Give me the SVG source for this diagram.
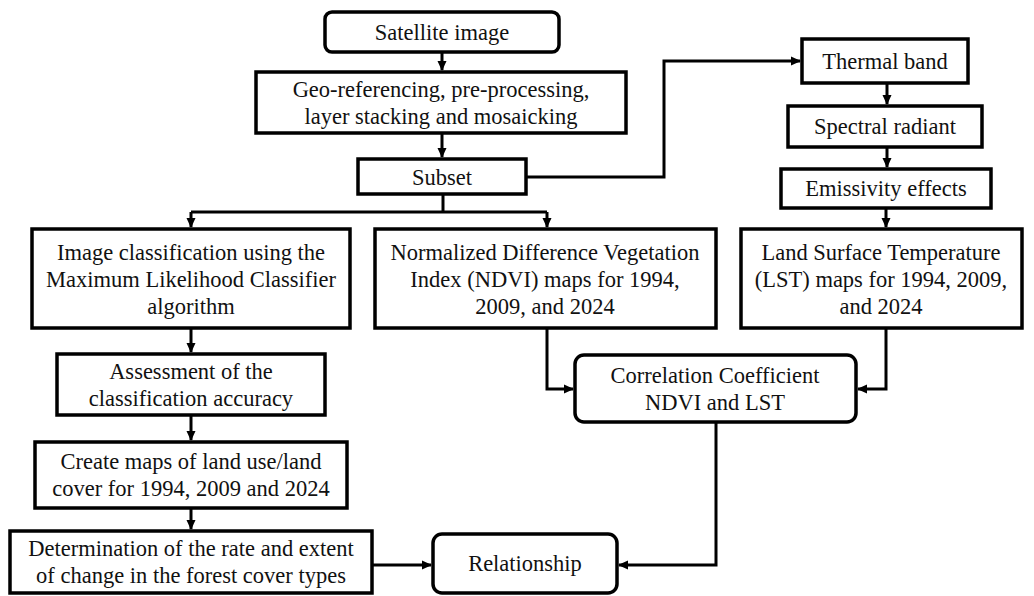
<svg xmlns="http://www.w3.org/2000/svg" width="1034" height="596" viewBox="0 0 1034 596">
<style>
.box{fill:#fff;stroke:#000;stroke-width:3.5}
.t{font-family:"Liberation Serif","Times New Roman",serif;font-size:22.5px;fill:#111;text-anchor:middle}
.c{fill:none;stroke:#000;stroke-width:3}
</style>
<defs>
<marker id="ah" markerUnits="userSpaceOnUse" markerWidth="10" markerHeight="10" refX="9" refY="5" orient="auto">
<path d="M0,0.5 L10,5 L0,9.5 z" fill="#000"/>
</marker>
</defs>
<rect width="1034" height="596" fill="#fff"/>
<g id="connectors">
<path class="c" d="M442,52 V70" marker-end="url(#ah)"/>
<path class="c" d="M442,133 V157" marker-end="url(#ah)"/>
<path class="c" d="M526,177 H664 V61 H800" marker-end="url(#ah)"/>
<path class="c" d="M887,83 V104" marker-end="url(#ah)"/>
<path class="c" d="M887,147 V167" marker-end="url(#ah)"/>
<path class="c" d="M886,208 V227" marker-end="url(#ah)"/>
<path class="c" d="M443,194 V212"/>
<path class="c" d="M191,212 H547"/>
<path class="c" d="M191,212 V227" marker-end="url(#ah)"/>
<path class="c" d="M547,212 V227" marker-end="url(#ah)"/>
<path class="c" d="M191,328 V352" marker-end="url(#ah)"/>
<path class="c" d="M191,415 V440" marker-end="url(#ah)"/>
<path class="c" d="M191,508 V529" marker-end="url(#ah)"/>
<path class="c" d="M547,328 V389 H573" marker-end="url(#ah)"/>
<path class="c" d="M886,328 V389 H858" marker-end="url(#ah)"/>
<path class="c" d="M372,565 H431" marker-end="url(#ah)"/>
<path class="c" d="M716,422 V565 H619" marker-end="url(#ah)"/>
</g>
<g id="satellite">
<rect class="box" x="325" y="12" width="234" height="40" rx="7"/>
<text class="t" x="442" y="40">Satellite image</text>
</g>
<g id="georef">
<rect class="box" x="256" y="72" width="370" height="61"/>
<text class="t" x="441" y="97">Geo-referencing, pre-processing,</text>
<text class="t" x="441" y="124">layer stacking and mosaicking</text>
</g>
<g id="subset">
<rect class="box" x="358" y="159" width="168" height="35"/>
<text class="t" x="442" y="185">Subset</text>
</g>
<g id="thermal">
<rect class="box" x="802" y="39" width="166" height="44"/>
<text class="t" x="885" y="69">Thermal band</text>
</g>
<g id="spectral">
<rect class="box" x="788" y="106" width="194" height="41"/>
<text class="t" x="885" y="134">Spectral radiant</text>
</g>
<g id="emissivity">
<rect class="box" x="781" y="169" width="210" height="39"/>
<text class="t" x="886" y="196">Emissivity effects</text>
</g>
<g id="classification">
<rect class="box" x="32" y="229" width="318" height="99"/>
<text class="t" x="191" y="260">Image classification using the</text>
<text class="t" x="191" y="287">Maximum Likelihood Classifier</text>
<text class="t" x="191" y="314">algorithm</text>
</g>
<g id="ndvi">
<rect class="box" x="375" y="229" width="341" height="99"/>
<text class="t" x="545" y="260">Normalized Difference Vegetation</text>
<text class="t" x="545" y="287">Index (NDVI) maps for 1994,</text>
<text class="t" x="545" y="314">2009, and 2024</text>
</g>
<g id="lst">
<rect class="box" x="741" y="229" width="281" height="99"/>
<text class="t" x="881" y="260">Land Surface Temperature</text>
<text class="t" x="881" y="287">(LST) maps for 1994, 2009,</text>
<text class="t" x="881" y="314">and 2024</text>
</g>
<g id="assessment">
<rect class="box" x="57" y="354" width="268" height="61"/>
<text class="t" x="191" y="379">Assessment of the</text>
<text class="t" x="191" y="406">classification accuracy</text>
</g>
<g id="correlation">
<rect class="box" x="575" y="355" width="281" height="67" rx="9"/>
<text class="t" x="715" y="383">Correlation Coefficient</text>
<text class="t" x="715" y="410">NDVI and LST</text>
</g>
<g id="createmaps">
<rect class="box" x="35" y="442" width="312" height="66"/>
<text class="t" x="191" y="469">Create maps of land use/land</text>
<text class="t" x="191" y="496">cover for 1994, 2009 and 2024</text>
</g>
<g id="determination">
<rect class="box" x="10" y="531" width="362" height="62"/>
<text class="t" x="191" y="556">Determination of the rate and extent</text>
<text class="t" x="191" y="583">of change in the forest cover types</text>
</g>
<g id="relationship">
<rect class="box" x="433" y="534" width="184" height="59" rx="9"/>
<text class="t" x="525" y="571">Relationship</text>
</g>
</svg>
